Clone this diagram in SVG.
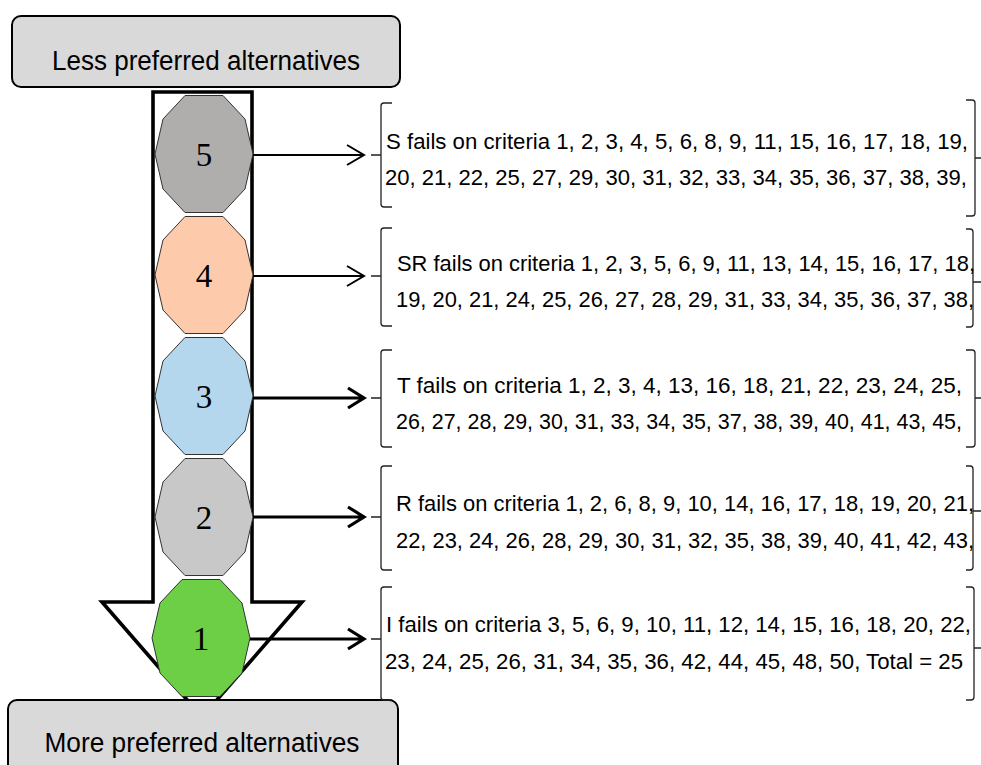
<svg xmlns="http://www.w3.org/2000/svg" xmlns:xlink="http://www.w3.org/1999/xlink" width="981" height="765" viewBox="0 0 981 765">
<style>
.box{fill:#d9d9d9;stroke:#000;stroke-width:2}
.btxt{font-family:"Liberation Sans",Arial,sans-serif;font-size:27px;fill:#000;text-anchor:middle}
.node{stroke:#333;stroke-width:1}
.num{font-family:"Liberation Serif","Times New Roman",serif;font-size:33px;fill:#000;text-anchor:middle}
.ln{font-family:"Liberation Sans",Arial,sans-serif;font-size:22px;fill:#000}
.br{fill:none;stroke:#222;stroke-width:1.3}
.c1{fill:none;stroke:#000;stroke-width:2}
.c2{fill:none;stroke:#000;stroke-width:3.2}
</style>
<defs>
<polygon id="deca" points="49,0 41,35 19,58.5 -19,58.5 -41,35 -49,0 -41,-35 -19,-58.5 19,-58.5 41,-35"/>
</defs>
<rect width="981" height="765" fill="#fff"/>
<g id="big-arrow">
<polygon points="153,92 252,92 252,602 302,602 202,717 102,602 153,602" fill="#fff" stroke="#000" stroke-width="3.6" stroke-linejoin="miter"/>
</g>
<g id="node5"><use xlink:href="#deca" x="204" y="154" class="node" fill="#b0adad"/><text class="num" x="204" y="166">5</text></g>
<g id="node4"><use xlink:href="#deca" x="204" y="275" class="node" fill="#fdcbac"/><text class="num" x="204" y="287">4</text></g>
<g id="node3"><use xlink:href="#deca" x="204" y="396" class="node" fill="#b4d7ee"/><text class="num" x="204" y="408">3</text></g>
<g id="node2"><use xlink:href="#deca" x="204" y="517" class="node" fill="#c8c8c8"/><text class="num" x="204" y="529">2</text></g>
<g id="node1"><use xlink:href="#deca" x="201" y="638" class="node" fill="#6ccf45"/><text class="num" x="201" y="650">1</text></g>
<g id="connectors">
<path class="c1" d="M253,155 H364 M347,145 L364,155 L347,165"/>
<path class="c1" d="M253,276 H364 M347,266 L364,276 L347,286"/>
<path class="c2" d="M253,398 H364 M348,388 L364,398 L348,408"/>
<path class="c2" d="M253,517 H364 M348,507 L364,517 L348,527"/>
<path class="c2" d="M250,639 H364 M348,629 L364,639 L348,649"/>
</g>
<g id="box-less">
<rect class="box" x="12" y="16" width="388" height="71" rx="9"/>
<text class="btxt" x="206" y="70" textLength="308" lengthAdjust="spacingAndGlyphs">Less preferred alternatives</text>
</g>
<g id="box-more">
<rect class="box" x="8" y="700" width="390" height="82" rx="9"/>
<text class="btxt" x="202" y="752" textLength="315" lengthAdjust="spacingAndGlyphs">More preferred alternatives</text>
</g>
<g id="list-S">
<path class="br" d="M392,103 H384 Q381,103 381,106 V204 Q381,207 384,207 H392 M371,155 H381"/>
<path class="br" d="M966,100 H972 Q975,100 975,103 V213 Q975,216 972,216 H966 M975,158 H981"/>
<text class="ln" x="386" y="149" textLength="582" lengthAdjust="spacingAndGlyphs">S fails on criteria 1, 2, 3, 4, 5, 6, 8, 9, 11, 15, 16, 17, 18, 19,</text>
<text class="ln" x="385" y="185" textLength="582" lengthAdjust="spacingAndGlyphs">20, 21, 22, 25, 27, 29, 30, 31, 32, 33, 34, 35, 36, 37, 38, 39,</text>
</g>
<g id="list-SR">
<path class="br" d="M392,228 H384 Q381,228 381,231 V323 Q381,326 384,326 H392 M371,276 H381"/>
<path class="br" d="M966,229 H970 Q973,229 973,232 V324 Q973,327 970,327 H966 M973,282 H981"/>
<text class="ln" x="397" y="271" textLength="578" lengthAdjust="spacingAndGlyphs">SR fails on criteria 1, 2, 3, 5, 6, 9, 11, 13, 14, 15, 16, 17, 18,</text>
<text class="ln" x="396" y="307" textLength="578" lengthAdjust="spacingAndGlyphs">19, 20, 21, 24, 25, 26, 27, 28, 29, 31, 33, 34, 35, 36, 37, 38,</text>
</g>
<g id="list-T">
<path class="br" d="M392,350 H384 Q381,350 381,353 V444 Q381,447 384,447 H392 M371,398 H381"/>
<path class="br" d="M966,350 H972 Q975,350 975,353 V444 Q975,447 972,447 H966 M975,398 H981"/>
<text class="ln" x="397" y="393" textLength="565" lengthAdjust="spacingAndGlyphs">T fails on criteria 1, 2, 3, 4, 13, 16, 18, 21, 22, 23, 24, 25,</text>
<text class="ln" x="396" y="429" textLength="566" lengthAdjust="spacingAndGlyphs">26, 27, 28, 29, 30, 31, 33, 34, 35, 37, 38, 39, 40, 41, 43, 45,</text>
</g>
<g id="list-R">
<path class="br" d="M392,466 H384 Q381,466 381,469 V567 Q381,570 384,570 H392 M371,517 H381"/>
<path class="br" d="M966,466 H970 Q973,466 973,469 V567 Q973,570 970,570 H966 M973,511 H981"/>
<text class="ln" x="396" y="511" textLength="578" lengthAdjust="spacingAndGlyphs">R fails on criteria 1, 2, 6, 8, 9, 10, 14, 16, 17, 18, 19, 20, 21,</text>
<text class="ln" x="396" y="548" textLength="578" lengthAdjust="spacingAndGlyphs">22, 23, 24, 26, 28, 29, 30, 31, 32, 35, 38, 39, 40, 41, 42, 43,</text>
</g>
<g id="list-I">
<path class="br" d="M392,587 H384 Q381,587 381,590 V697 Q381,700 384,700 H392 M371,639 H381"/>
<path class="br" d="M966,587 H971 Q974,587 974,590 V697 Q974,700 971,700 H966 M974,648 H981"/>
<text class="ln" x="386" y="632" textLength="585" lengthAdjust="spacingAndGlyphs">I fails on criteria 3, 5, 6, 9, 10, 11, 12, 14, 15, 16, 18, 20, 22,</text>
<text class="ln" x="385" y="669" textLength="578" lengthAdjust="spacingAndGlyphs">23, 24, 25, 26, 31, 34, 35, 36, 42, 44, 45, 48, 50, Total = 25</text>
</g>
</svg>
